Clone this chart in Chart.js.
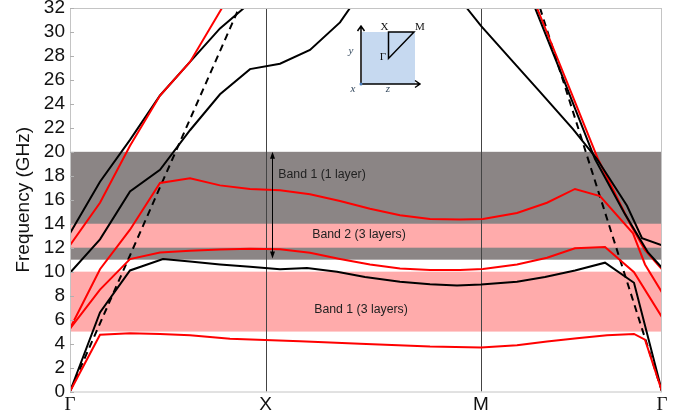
<!DOCTYPE html>
<html>
<head>
<meta charset="utf-8">
<script src="https://cdn.jsdelivr.net/npm/chart.js@4.4.0/dist/chart.umd.min.js"></script>
<style>
  html, body { margin: 0; padding: 0; background: #fff; }
</style>
</head>
<body>
<canvas id="c" width="684" height="416"></canvas>
<script>
// k-path position of the symmetry points and their names
const kTicks = [0, 195.5, 411, 592];
const kLabels = ['Γ', 'X', 'M', 'Γ'];

// frequency ranges of the shaded band gaps (GHz)
const gapOneLayer = [11, 20];
const gapTwoThree = [12, 14];
const gapOneThree = [5, 10];

// dispersion curves, [k, f(GHz)]
const redAcoustic = [[0,0],[30,4.73],[60,4.87],[90,4.8],[120,4.7],[160,4.4],[195,4.3],[230,4.2],[290,3.98],[360,3.75],[411,3.68],[447,3.85],[477,4.18],[507,4.45],[537,4.69],[564,4.8],[575,4.33],[592,0]];
const blackAcoustic = [[0,0],[30,6.6],[60,10.1],[93,11.05],[120,10.85],[150,10.6],[180,10.4],[210,10.2],[237,10.3],[267,10.0],[295,9.55],[330,9.15],[360,8.95],[387,8.85],[411,8.93],[447,9.15],[475,9.55],[505,10.1],[535,10.75],[564,9.07],[592,0]];
const redFlat = [[0,5.25],[30,8.5],[60,11.05],[90,11.6],[120,11.75],[150,11.85],[180,11.92],[210,11.86],[240,11.57],[270,11.06],[300,10.6],[330,10.27],[360,10.13],[390,10.13],[413,10.22],[447,10.6],[477,11.16],[505,11.95],[535,12.05],[564,9.95],[592,6.2]];
const redPeak = [[0,5.25],[30,10.2],[60,13.5],[90,17.4],[120,17.8],[150,17.2],[180,16.9],[210,16.8],[240,16.45],[270,15.9],[300,15.25],[330,14.7],[360,14.4],[390,14.35],[413,14.4],[447,14.9],[477,15.75],[505,16.9],[530,16.3],[563,13.2],[575,10.6],[592,8.27]];
const redUpper = [[0,12.2],[30,15.75],[60,20.5],[90,24.7],[120,27.5],[152,32]];
const blackUpper = [[0,13.2],[30,17.5],[60,21.0],[90,24.7],[120,27.5],[150,30.3],[174,32]];
const blackMid = [[0,9.9],[30,12.7],[60,16.7],[90,18.5],[120,21.8],[150,24.8],[180,26.9],[210,27.35],[240,28.5],[270,30.8],[280,32]];
const blackM = [[396.7,32],[411,30.5],[440,27.8],[470,25.0],[503,21.9],[527,19.4],[557,15.5],[572,12.8],[592,12.2]];
const blackSteep = [[465,32],[490,26.8],[525,19.4],[555,14.8],[578,11.6],[592,10.33]];
const redSteep = [[467,32],[498,25.6],[528,19.4],[560,14.0],[575,11.8],[592,10.2]];
const soundLeft = [[0,0],[169,32]];
const soundRight = [[470,32],[592,0]];

const RED = '#ff0000', BLACK = '#000000';
const GREY = '#8b8585', PINK = '#ffabab';

function line(pts, color, dash) {
  return {
    data: pts.map(([x, y]) => ({ x, y })),
    showLine: true, borderColor: color, borderWidth: 2,
    borderDash: dash || [], pointRadius: 0, tension: 0, fill: false
  };
}

const bandsPlugin = {
  id: 'bands',
  beforeDatasetsDraw(chart) {
    const { ctx, chartArea: a, scales: { x, y } } = chart;
    ctx.save();
    const band = (r, c) => {
      const y1 = y.getPixelForValue(r[1]), y0 = y.getPixelForValue(r[0]);
      ctx.fillStyle = c;
      ctx.fillRect(a.left, y1, a.right - a.left, y0 - y1);
    };
    band(gapOneLayer, GREY);
    band(gapTwoThree, PINK);
    band(gapOneThree, PINK);
    // symmetry-point lines
    ctx.strokeStyle = '#444';
    ctx.lineWidth = 1;
    [kTicks[1], kTicks[2]].forEach(k => {
      const px = Math.round(x.getPixelForValue(k)) + 0.5;
      ctx.beginPath(); ctx.moveTo(px, a.top); ctx.lineTo(px, a.bottom); ctx.stroke();
    });
    // band labels
    ctx.fillStyle = '#222';
    ctx.font = '12.3px "Liberation Sans", Arial, sans-serif';
    ctx.textAlign = 'center';
    ctx.textBaseline = 'middle';
    ctx.fillText('Band 1 (1 layer)', x.getPixelForValue(252), y.getPixelForValue(18.07));
    ctx.fillText('Band 2 (3 layers)', x.getPixelForValue(289), y.getPixelForValue(13.06));
    ctx.fillText('Band 1 (3 layers)', x.getPixelForValue(291), y.getPixelForValue(6.8));
    ctx.restore();
  },
  afterDatasetsDraw(chart) {
    const { ctx, chartArea: a, scales: { x, y } } = chart;
    ctx.save();
    // double arrow spanning the 1-layer band
    const ax = Math.round(x.getPixelForValue(202)) + 0.5;
    const yt = y.getPixelForValue(gapOneLayer[1]), yb = y.getPixelForValue(11.1);
    ctx.strokeStyle = '#000'; ctx.fillStyle = '#000'; ctx.lineWidth = 1;
    ctx.beginPath(); ctx.moveTo(ax, yt + 4); ctx.lineTo(ax, yb - 4); ctx.stroke();
    ctx.beginPath(); ctx.moveTo(ax, yt); ctx.lineTo(ax - 2.5, yt + 7); ctx.lineTo(ax + 2.5, yt + 7); ctx.fill();
    ctx.beginPath(); ctx.moveTo(ax, yb); ctx.lineTo(ax - 2.5, yb - 7); ctx.lineTo(ax + 2.5, yb - 7); ctx.fill();

    // frame and left ticks
    ctx.strokeStyle = '#c4c4c4';
    ctx.lineWidth = 1;
    ctx.strokeRect(a.left + 0.5, a.top + 0.5, a.right - a.left - 1, a.bottom - a.top);
    ctx.strokeStyle = '#b0b0b0';
    y.ticks.forEach(t => {
      const py = Math.round(y.getPixelForValue(t.value)) + 0.5;
      ctx.beginPath(); ctx.moveTo(a.left, py); ctx.lineTo(a.left + 4, py); ctx.stroke();
    });

    // inset: unit cell with irreducible zone
    const ox = 361, oy = 84;
    ctx.fillStyle = '#c6d9f0';
    ctx.fillRect(ox + 1, 32, 53, oy - 32);
    ctx.strokeStyle = '#000';
    ctx.lineWidth = 1.5;
    ctx.beginPath();
    ctx.moveTo(ox, oy); ctx.lineTo(ox, 26);
    ctx.moveTo(ox - 3.5, 31); ctx.lineTo(ox, 26); ctx.lineTo(ox + 3.5, 31);
    ctx.moveTo(ox, oy); ctx.lineTo(420, oy);
    ctx.moveTo(415, oy - 3.5); ctx.lineTo(420, oy); ctx.lineTo(415, oy + 3.5);
    ctx.stroke();
    ctx.beginPath();
    ctx.moveTo(388.5, 58.5); ctx.lineTo(388.5, 32); ctx.lineTo(414, 32); ctx.closePath();
    ctx.stroke();
    ctx.fillStyle = '#4a7fc0';
    ctx.beginPath(); ctx.arc(ox, oy, 1.5, 0, Math.PI * 2); ctx.fill();
    ctx.fillStyle = '#111';
    ctx.font = '11px "Liberation Serif", "Times New Roman", serif';
    ctx.textAlign = 'center'; ctx.textBaseline = 'middle';
    ctx.fillText('X', 384.5, 27);
    ctx.fillText('M', 420, 27);
    ctx.fillText('Γ', 383, 57);
    ctx.fillStyle = '#34495e';
    ctx.font = 'italic 11px "Liberation Serif", "Times New Roman", serif';
    ctx.fillText('y', 351, 51);
    ctx.fillText('x', 353, 89);
    ctx.fillText('z', 388, 89);
    ctx.restore();
  }
};

new Chart(document.getElementById('c'), {
  type: 'scatter',
  data: {
    datasets: [
      line(redAcoustic, RED),
      line(blackAcoustic, BLACK),
      line(redFlat, RED),
      line(redPeak, RED),
      line(redUpper, RED),
      line(blackUpper, BLACK),
      line(blackMid, BLACK),
      line(blackM, BLACK),
      line(blackSteep, BLACK),
      line(redSteep, RED),
      line(soundLeft, BLACK, [7, 5]),
      line(soundRight, BLACK, [7, 5])
    ]
  },
  options: {
    responsive: false,
    animation: false,
    devicePixelRatio: 1,
    layout: { padding: { top: 8, right: 22, left: 0, bottom: 0 } },
    plugins: { legend: { display: false }, tooltip: { enabled: false } },
    scales: {
      x: {
        type: 'linear', min: kTicks[0], max: kTicks[3],
        afterBuildTicks: s => { s.ticks = kTicks.map(v => ({ value: v })); },
        afterFit: s => { s.height = 24.5; s.paddingLeft = 0; s.paddingRight = 0; },
        grid: { display: false, drawTicks: false }, border: { display: false },
        ticks: {
          autoSkip: false, maxRotation: 0, padding: 2, color: '#111',
          callback: (v, i) => kLabels[i],
          font: c => ({ family: (c.index === 1 || c.index === 2) ? '"Liberation Sans", Arial' : '"Liberation Serif", "Times New Roman", serif', size: 19 })
        }
      },
      y: {
        min: 0, max: 32,
        afterFit: s => { s.width = 70; s.paddingTop = 0; s.paddingBottom = 0; },
        grid: { display: false, drawTicks: false }, border: { display: false },
        ticks: { stepSize: 2, autoSkip: false, padding: 5, color: '#111', font: { family: '"Liberation Sans", Arial', size: 19 } },
        title: { display: true, text: 'Frequency (GHz)', color: '#111', padding: { top: 12, bottom: 0 }, font: { family: '"Liberation Sans", Arial', size: 19 } }
      }
    }
  },
  plugins: [bandsPlugin]
});
</script>
</body>
</html>
